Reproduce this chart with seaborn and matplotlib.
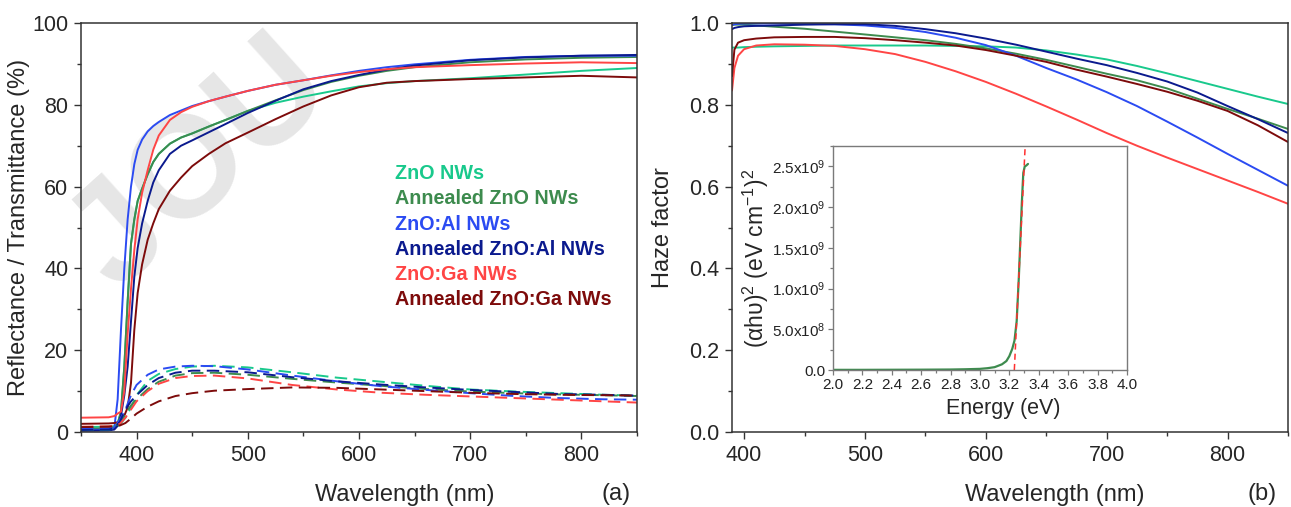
import numpy as np
import pandas as pd
import matplotlib
matplotlib.use("Agg")
import matplotlib.pyplot as plt
import seaborn as sns
from matplotlib.ticker import MultipleLocator, FuncFormatter, FixedLocator

# ---------------- data ----------------
samples = ["ZnO NWs", "Annealed ZnO NWs", "ZnO:Al NWs", "Annealed ZnO:Al NWs",
           "ZnO:Ga NWs", "Annealed ZnO:Ga NWs"]
colors = ["#19C98C", "#3D8B4E", "#2B4BF2", "#0B1A8E", "#FF4545", "#7D0B0B"]

# Transmittance (%) - solid lines
wl_T = [350, 375, 380, 383, 386, 389, 392, 395, 398, 401, 405, 410, 415, 420, 430,
        440, 450, 465, 480, 500, 525, 550, 575, 600, 625, 650, 700, 750, 800, 850]
T_zno = [1.2, 1.3, 1.4, 2, 5, 16, 32, 46, 52, 56.5, 59.5, 63, 66, 68, 70.5,
         72, 73, 74.7, 76.3, 78.5, 80.5, 82.0, 83.3, 84.5, 85.3, 85.8, 86.5, 87.4, 88.3, 89.0]
T_zno_ann = [0.8, 0.9, 1.0, 2, 5, 16, 32, 46, 52, 56.5, 59.5, 63, 66, 68, 70.5,
             72, 73, 74.7, 76.3, 78.5, 81.1, 83.6, 85.6, 87.1, 88.3, 89.2, 90.4, 91.1, 91.5, 91.7]
T_al = [0.5, 0.6, 1.0, 8, 25, 40, 52, 60, 65.5, 69, 71.5, 73.5, 74.8, 75.8, 77.5,
        78.6, 79.7, 80.9, 82.0, 83.4, 84.9, 86.0, 87.2, 88.3, 89.2, 89.9, 91.0, 91.7, 92.0, 92.0]
T_al_ann = [0.3, 0.4, 0.6, 1.5, 4, 9, 16, 27, 38, 45, 51, 56.5, 61, 64, 68,
            70, 71.3, 73.3, 75.3, 78.0, 81.0, 83.8, 85.8, 87.3, 88.6, 89.6, 90.9, 91.6, 92.0, 92.2]
T_ga = [3.5, 3.6, 3.9, 4.5, 5, 10, 24, 35, 44.5, 52, 58.5, 64, 69, 72.5, 76.3,
        78.2, 79.5, 80.9, 82.0, 83.4, 84.9, 86.0, 87.1, 88.0, 88.7, 89.2, 89.7, 90.1, 90.4, 90.2]
T_ga_ann = [2.0, 2.1, 2.2, 2.4, 2.8, 4, 6, 12, 25, 34, 41, 47, 51, 54.5, 59,
            62.2, 65, 68, 70.6, 73.2, 76.5, 79.6, 82.3, 84.3, 85.4, 85.8, 86.3, 86.7, 87.1, 86.7]

# Reflectance (%) - dashed lines
wl_R = [350, 375, 380, 385, 390, 395, 400, 410, 420, 435, 450, 470, 500, 540,
        580, 620, 660, 700, 740, 780, 820, 850]
R_zno = [0.5, 0.6, 0.9, 1.8, 3.5, 6, 9, 12.5, 14.2, 15.4, 16, 16.2, 15.8, 14.6,
         13.3, 12.3, 11.3, 10.4, 9.9, 9.5, 9.1, 8.9]
R_zno_ann = [0.7, 0.8, 1.0, 2, 4.5, 6.5, 8, 10.5, 12.3, 13.8, 14.4, 14.5, 14.0, 13.0,
             12.1, 11.3, 10.5, 9.9, 9.5, 9.2, 9.0, 8.8]
R_al = [0.8, 0.9, 1.2, 3, 5.5, 9, 11.5, 14, 15.3, 16, 16.2, 16.1, 15.3, 13.8,
        12.4, 11.2, 10.3, 9.5, 8.8, 8.3, 8.0, 7.9]
R_al_ann = [0.5, 0.6, 0.9, 2.5, 5.5, 7.5, 9, 11.5, 13.2, 14.5, 15, 15, 14.6, 13.4,
            12.4, 11.6, 10.9, 10.3, 9.8, 9.3, 9.1, 8.9]
R_ga = [1.3, 1.4, 1.6, 2, 3.5, 5.5, 7.5, 10, 11.8, 13.2, 13.7, 13.8, 13.1, 11.5,
        10.4, 9.6, 9.1, 8.7, 8.3, 7.9, 7.5, 7.2]
R_ga_ann = [1.2, 1.3, 1.4, 1.6, 2.2, 3.3, 4.5, 6.2, 7.5, 8.8, 9.5, 10.1, 10.5, 10.9,
            10.8, 10.4, 10.0, 9.6, 9.3, 9.1, 9.0, 8.9]

# Haze factor
wl_H = [390, 392, 395, 400, 410, 425, 450, 475, 500, 525, 550, 575, 600, 625, 650,
        675, 700, 725, 750, 775, 800, 825, 850]
H_zno = [0.94, 0.94, 0.94, 0.941, 0.942, 0.943, 0.944, 0.945, 0.945, 0.945, 0.945, 0.944,
         0.943, 0.940, 0.933, 0.923, 0.911, 0.895, 0.877, 0.858, 0.839, 0.820, 0.802]
H_zno_ann = [0.995, 0.996, 0.996, 0.996, 0.994, 0.991, 0.986, 0.979, 0.972, 0.965, 0.958,
             0.949, 0.938, 0.925, 0.910, 0.893, 0.876, 0.860, 0.840, 0.815, 0.790, 0.766, 0.741]
H_al = [0.995, 0.997, 0.998, 0.999, 0.999, 0.999, 0.998, 0.997, 0.994, 0.988, 0.978,
        0.964, 0.946, 0.920, 0.890, 0.862, 0.831, 0.797, 0.759, 0.720, 0.680, 0.641, 0.602]
H_al_ann = [0.985, 0.988, 0.990, 0.992, 0.993, 0.994, 0.996, 0.997, 0.997, 0.993, 0.985,
            0.975, 0.962, 0.947, 0.930, 0.913, 0.897, 0.878, 0.857, 0.830, 0.797, 0.765, 0.731]
H_ga = [0.835, 0.890, 0.920, 0.936, 0.945, 0.948, 0.947, 0.944, 0.936, 0.924, 0.905,
        0.882, 0.856, 0.827, 0.796, 0.764, 0.731, 0.700, 0.671, 0.643, 0.615, 0.587, 0.558]
H_ga_ann = [0.870, 0.935, 0.952, 0.958, 0.962, 0.965, 0.966, 0.966, 0.963, 0.958, 0.952,
            0.945, 0.934, 0.920, 0.905, 0.886, 0.869, 0.851, 0.832, 0.810, 0.785, 0.750, 0.709]

# Inset: Tauc plot
E_tauc = [2.0, 2.2, 2.4, 2.6, 2.8, 2.9, 3.0, 3.05, 3.1, 3.15, 3.18, 3.2, 3.22, 3.235,
          3.25, 3.265, 3.275, 3.285, 3.295, 3.305, 3.315, 3.327]
tauc_y = [0.002e9, 0.002e9, 0.003e9, 0.004e9, 0.006e9, 0.009e9, 0.014e9, 0.022e9, 0.035e9,
          0.07e9, 0.11e9, 0.17e9, 0.26e9, 0.36e9, 0.6e9, 1.15e9, 1.6e9, 2.05e9, 2.42e9,
          2.5e9, 2.51e9, 2.53e9]
tangent_E = [3.234, 3.308]
tangent_y = [0.0, 2.76e9]
inset_yticks = [0.0, 0.5e9, 1.0e9, 1.5e9, 2.0e9, 2.5e9]

# ---------------- long-form tables ----------------
T_all = [T_zno, T_zno_ann, T_al, T_al_ann, T_ga, T_ga_ann]
R_all = [R_zno, R_zno_ann, R_al, R_al_ann, R_ga, R_ga_ann]
H_all = [H_zno, H_zno_ann, H_al, H_al_ann, H_ga, H_ga_ann]

dfT = pd.concat([pd.DataFrame({"wl": wl_T, "val": v, "sample": s}) for s, v in zip(samples, T_all)])
dfR = pd.concat([pd.DataFrame({"wl": wl_R, "val": v, "sample": s}) for s, v in zip(samples, R_all)])
dfH = pd.concat([pd.DataFrame({"wl": wl_H, "val": v, "sample": s}) for s, v in zip(samples, H_all)])
dfTauc = pd.DataFrame({"E": E_tauc, "y": tauc_y})
dfTan = pd.DataFrame({"E": tangent_E, "y": tangent_y})
palette = dict(zip(samples, colors))

# ---------------- style ----------------
sns.set_theme(style="ticks")
plt.rcParams["font.family"] = ["Liberation Sans", "DejaVu Sans"]
plt.rcParams["mathtext.fontset"] = "custom"
plt.rcParams["mathtext.rm"] = "Liberation Sans"
plt.rcParams["mathtext.it"] = "Liberation Sans"
plt.rcParams["mathtext.default"] = "regular"

fig = plt.figure(figsize=(12.91, 5.07), dpi=100)
ax1 = fig.add_axes([0.0627, 0.1479, 0.4307, 0.8067])
ax2 = fig.add_axes([0.5670, 0.1479, 0.4307, 0.8067])
axin = fig.add_axes([0.6452, 0.2702, 0.2277, 0.4418])

for ax in (ax1, ax2):
    ax.patch.set_alpha(0)

# watermark (light grey, behind the curves)
fig.text(0.0705, 0.478, "JOU", rotation=42, rotation_mode="anchor",
         fontsize=104, color="#e6e6e6", fontweight="bold",
         ha="left", va="center", zorder=-1)

lw = 1.4
sns.lineplot(data=dfT, x="wl", y="val", hue="sample", palette=palette, ax=ax1,
             estimator=None, sort=False, legend=False, linewidth=lw)
sns.lineplot(data=dfR, x="wl", y="val", hue="sample", palette=palette, ax=ax1,
             estimator=None, sort=False, legend=False, linewidth=lw,
             linestyle=(0, (6.4, 3.3)))
sns.lineplot(data=dfH, x="wl", y="val", hue="sample", palette=palette, ax=ax2,
             estimator=None, sort=False, legend=False, linewidth=lw)
sns.lineplot(data=dfTauc, x="E", y="y", ax=axin, color="#3D8B4E", linewidth=1.6,
             estimator=None, sort=False)
sns.lineplot(data=dfTan, x="E", y="y", ax=axin, color="#FF3030", linewidth=1.1,
             linestyle=(0, (4, 2.7)), estimator=None, sort=False)

# main axes formatting
spine_c = "#333333"
for ax in (ax1, ax2):
    for sp in ax.spines.values():
        sp.set_visible(True)
        sp.set_color(spine_c)
        sp.set_linewidth(1.1)
    ax.tick_params(which="major", direction="out", length=5, width=1.0, color=spine_c,
                   labelsize=15.5, pad=4, top=False, right=False)
    ax.tick_params(which="minor", direction="out", length=3, width=1.0, color=spine_c,
                   top=False, right=False)
    ax.xaxis.set_major_locator(MultipleLocator(100))
    ax.xaxis.set_minor_locator(MultipleLocator(50))

ax1.set_xlim(350, 850)
ax1.set_ylim(0, 100)
ax1.yaxis.set_major_locator(MultipleLocator(20))
ax1.yaxis.set_minor_locator(MultipleLocator(10))
ax1.set_xlabel("Wavelength (nm)", fontsize=17)
ax1.set_ylabel("Reflectance / Transmittance (%)", fontsize=17)
ax1.xaxis.set_label_coords(0.582, -0.126)
ax1.yaxis.set_label_coords(-0.092, 0.5)
ax1.text(0.962, -0.152, "(a)", transform=ax1.transAxes, fontsize=17,
         ha="center", va="center")

ax2.set_xlim(390, 850)
ax2.set_ylim(0, 1.0)
ax2.yaxis.set_major_locator(MultipleLocator(0.2))
ax2.yaxis.set_minor_locator(MultipleLocator(0.1))
ax2.yaxis.set_major_formatter(FuncFormatter(lambda v, p: f"{v:.1f}"))
ax2.set_xlabel("Wavelength (nm)", fontsize=17)
ax2.set_ylabel("Haze factor", fontsize=17)
ax2.xaxis.set_label_coords(0.580, -0.126)
ax2.yaxis.set_label_coords(-0.104, 0.5)
ax2.text(0.953, -0.152, "(b)", transform=ax2.transAxes, fontsize=17,
         ha="center", va="center")

# legend as coloured text
leg_y0 = 0.632
for i, (s, c) in enumerate(zip(samples, colors)):
    ax1.text(0.565, leg_y0 - i * 0.0618, s, transform=ax1.transAxes, color=c,
             fontsize=14.2, fontweight="bold", ha="left", va="center")

# inset formatting
in_c = "#7a7a7a"
for sp in axin.spines.values():
    sp.set_visible(True)
    sp.set_color(in_c)
    sp.set_linewidth(1.0)
axin.set_xlim(2.0, 4.0)
axin.set_ylim(0, 2.75e9)
axin.xaxis.set_major_locator(MultipleLocator(0.2))
axin.xaxis.set_minor_locator(MultipleLocator(0.1))
axin.yaxis.set_major_locator(FixedLocator(inset_yticks))
axin.yaxis.set_minor_locator(MultipleLocator(0.25e9))


def sci_fmt(v, pos):
    if v < 1:
        return "0.0"
    e = int(np.floor(np.log10(v)))
    m = v / 10 ** e
    return f"{m:.1f}x10$^{{{e}}}$"


axin.yaxis.set_major_formatter(FuncFormatter(sci_fmt))
axin.xaxis.set_major_formatter(FuncFormatter(lambda v, p: f"{v:.1f}"))
axin.tick_params(which="major", direction="out", length=3.5, width=0.9, color=in_c,
                 labelsize=11, pad=2, top=False, right=False, labelcolor="#222222")
axin.tick_params(which="minor", direction="out", length=2, width=0.9, color=in_c,
                 top=False, right=False)
axin.set_xlabel("Energy (eV)", fontsize=15.5)
axin.xaxis.set_label_coords(0.578, -0.125)
axin.set_ylabel("(\u03b1h\u03c5)$^{2}$ (eV cm$^{-1}$)$^{2}$", fontsize=16.5)
axin.yaxis.set_label_coords(-0.212, 0.5)

fig.savefig("out.png", dpi=100, facecolor="white")
